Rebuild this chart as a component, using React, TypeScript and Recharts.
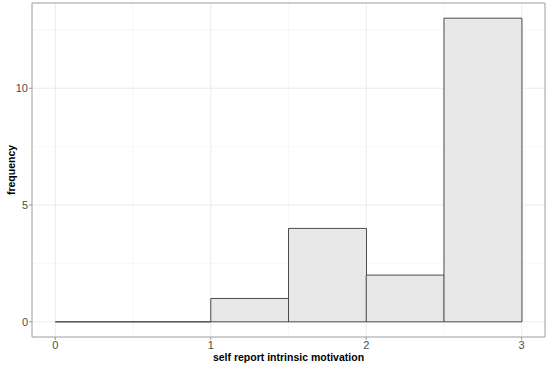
import { ComposedChart, Bar, XAxis, YAxis, CartesianGrid, ReferenceArea } from "recharts";

// bin centres (width 0.5) and counts
const binMids = [0.25, 0.75, 1.25, 1.75, 2.25, 2.75];
const counts = [0, 0, 1, 4, 2, 13];

const xTicks = [0, 1, 2, 3];
const yTicks = [0, 5, 10];
const xMinor = [0.5, 1.5, 2.5];
const yMinor = [2.5, 7.5, 12.5];

const data = binMids.map((mid, i) => ({ mid, count: counts[i] }));

const font = "'Liberation Sans', Arial, sans-serif";
const tickStyle = { fontSize: 11, fill: "#4d4d4d", fontFamily: font };

// draws an outline even for empty bins, like ggplot does
function HistBar(props: any) {
  const { x, y, width, height } = props;
  const d = `M${x},${y + height}V${y}H${x + width}V${y + height}Z`;
  return <path d={d} fill="#e8e8e8" stroke="#4a4a4a" strokeWidth={1} />;
}

export default function App() {
  return (
    <div style={{ position: "absolute", left: 0, top: 0, background: "#fff" }}>
      <ComposedChart
        width={550}
        height={366}
        data={data}
        margin={{ top: 3, right: 5, bottom: 0, left: 0 }}
        barCategoryGap={0}
        barGap={0}
      >
        <CartesianGrid
          stroke="#f4f4f4"
          strokeWidth={0.6}
          horizontalValues={yMinor}
          verticalValues={xMinor}
        />
        <CartesianGrid stroke="#ebebeb" strokeWidth={1} />
        <XAxis
          dataKey="mid"
          type="number"
          domain={[-0.15, 3.15]}
          ticks={xTicks}
          allowDataOverflow
          height={29}
          axisLine={false}
          tickSize={3}
          tickMargin={1}
          tickLine={{ stroke: "#999" }}
          tick={tickStyle}
          label={{
            value: "self report intrinsic motivation",
            position: "insideBottom",
            offset: 5,
            style: { fontSize: 10.5, fontWeight: "bold", fill: "#000", fontFamily: font },
          }}
        />
        <YAxis
          type="number"
          domain={[-0.65, 13.65]}
          ticks={yTicks}
          allowDataOverflow
          width={32}
          axisLine={false}
          tickSize={3}
          tickMargin={1}
          tickLine={{ stroke: "#999" }}
          tick={tickStyle}
          label={{
            value: "frequency",
            angle: -90,
            position: "insideLeft",
            offset: 11,
            style: { textAnchor: "middle", fontSize: 10.5, fontWeight: "bold", fill: "#000", fontFamily: font },
          }}
        />
        <Bar dataKey="count" shape={HistBar} isAnimationActive={false} />
        <ReferenceArea
          x1={-0.15}
          x2={3.15}
          y1={-0.65}
          y2={13.65}
          fill="none"
          stroke="#a6a6a6"
          strokeWidth={1}
          fillOpacity={0}
        />
      </ComposedChart>
    </div>
  );
}
